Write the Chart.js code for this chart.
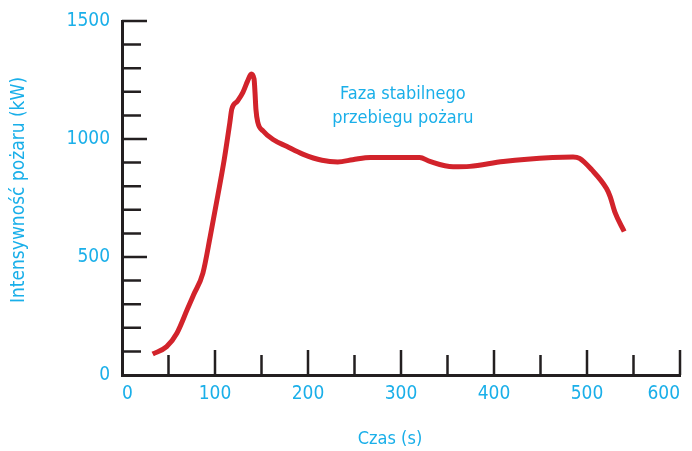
<!DOCTYPE html>
<html>
<head>
<meta charset="utf-8">
<script src="https://cdn.jsdelivr.net/npm/chart.js@4"></script>
<style>
  html, body { margin: 0; padding: 0; background: #fff; }
  #wrap { width: 692px; height: 451px; position: relative; }
</style>
</head>
<body>
<div id="wrap"><canvas id="hrr-chart"></canvas></div>
<script>
// heat release rate curve
const timeS = [33, 48, 59, 70, 77, 87, 95, 103, 110, 116, 118, 124, 130, 135, 139, 142, 143, 144, 146, 152, 162, 177, 195, 215, 232, 248, 267, 300, 320, 331, 356, 374, 410, 463, 485, 492, 505, 521, 525, 530, 540];
const powerKW = [89, 120, 177, 276, 340, 432, 590, 760, 915, 1071, 1126, 1160, 1198, 1245, 1275, 1254, 1198, 1126, 1071, 1033, 999, 969, 935, 910, 903, 912, 922, 922, 922, 905, 882, 884, 905, 922, 924, 918, 870, 790, 755, 690, 608];

const yTicks = [0, 500, 1000, 1500];
const xTicks = [0, 100, 200, 300, 400, 500, 600];
const noteLines = ['Faza stabilnego', 'przebiegu pożaru'];
const notePos = { x: 302, y: 1190 };

const FONT = "'DejaVu Sans Condensed', 'DejaVu Sans', sans-serif";
const CYAN = '#1AAFE9';
const INK = '#231F20';

const axisMarks = {
  id: 'axisMarks',
  afterDraw(chart) {
    const { ctx, scales: { x, y } } = chart;
    const left = x.getPixelForValue(0);
    const bottom = y.getPixelForValue(0);
    ctx.save();
    ctx.strokeStyle = INK;
    ctx.lineWidth = 2.5;
    ctx.beginPath();
    for (let v = 100; v <= 1500; v += 100) {
      const py = y.getPixelForValue(v);
      ctx.moveTo(left, py);
      ctx.lineTo(left + (v % 500 === 0 ? 25 : 19), py);
    }
    for (let v = 50; v <= 600; v += 50) {
      const px = x.getPixelForValue(v);
      ctx.moveTo(px, bottom);
      ctx.lineTo(px, bottom - (v % 100 === 0 ? 25 : 20));
    }
    ctx.stroke();

    // titles and note
    ctx.fillStyle = CYAN;
    ctx.textAlign = 'center';
    ctx.textBaseline = 'middle';
    ctx.font = '18px ' + FONT;
    ctx.fillText('Czas (s)', 390, 439);
    ctx.save();
    ctx.translate(19, 190);
    ctx.rotate(-Math.PI / 2);
    ctx.font = '19px ' + FONT;
    ctx.fillText('Intensywność pożaru (kW)', 0, 0);
    ctx.restore();

    ctx.font = '18px ' + FONT;
    const nx = x.getPixelForValue(notePos.x);
    const ny = y.getPixelForValue(notePos.y);
    noteLines.forEach((t, i) => ctx.fillText(t, nx, ny + i * 24));
    ctx.restore();
  }
};

new Chart(document.getElementById('hrr-chart'), {
  type: 'line',
  data: {
    datasets: [{
      data: timeS.map((t, i) => ({ x: t, y: powerKW[i] })),
      borderColor: '#D2232B',
      borderWidth: 5,
      pointRadius: 0,
      cubicInterpolationMode: 'monotone',
      fill: false,
    }],
  },
  options: {
    responsive: true,
    maintainAspectRatio: false,
    animation: false,
    layout: { padding: { top: 21, right: 12, left: 0, bottom: 0 } },
    plugins: { legend: { display: false }, tooltip: { enabled: false } },
    scales: {
      x: {
        type: 'linear',
        min: 0,
        max: 600,
        afterBuildTicks: (s) => { s.ticks = xTicks.map((v) => ({ value: v })); },
        afterFit: (s) => { s.height = 76; s.paddingLeft = 0; s.paddingRight = 0; },
        grid: { drawOnChartArea: false, drawTicks: false },
        border: { color: INK, width: 3 },
        ticks: {
          color: CYAN, font: { family: FONT, size: 19 }, padding: 8, maxRotation: 0,
          align: 'inner', callback: (v) => String(v),
        },
      },
      y: {
        min: 0,
        max: 1500,
        afterBuildTicks: (s) => { s.ticks = yTicks.map((v) => ({ value: v })); },
        afterFit: (s) => { s.width = 122; s.paddingTop = 0; s.paddingBottom = 0; },
        grid: { drawOnChartArea: false, drawTicks: false },
        border: { color: INK, width: 3 },
        ticks: { color: CYAN, font: { family: FONT, size: 19 }, padding: 12, callback: (v) => String(v) },
      },
    },
  },
  plugins: [axisMarks],
});
</script>
</body>
</html>
